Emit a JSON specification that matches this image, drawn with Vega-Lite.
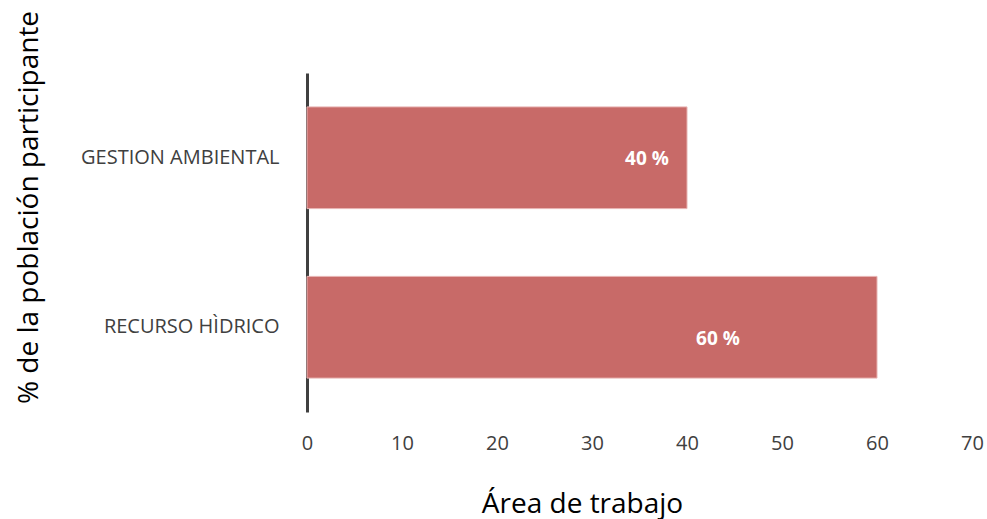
{
  "$schema": "https://vega.github.io/schema/vega-lite/v6.json",
  "width": 665,
  "height": 339,
  "autosize": "none",
  "padding": {"left": 307, "top": 73, "right": 15, "bottom": 107},
  "background": "white",
  "config": {
    "view": {"stroke": null},
    "font": "Open Sans"
  },
  "data": {
    "values": [
      {"area": "GESTION AMBIENTAL", "pct": 40},
      {"area": "RECURSO HÌDRICO", "pct": 60}
    ]
  },
  "transform": [{"calculate": "datum.pct + ' %'", "as": "etiqueta"}],
  "encoding": {
    "y": {
      "field": "area",
      "type": "nominal",
      "sort": null,
      "scale": {"paddingInner": 0.4, "paddingOuter": 0.2},
      "axis": {
        "title": "% de la población participante",
        "titleFont": "Open Sans",
        "titleFontSize": 28,
        "titleFontWeight": "normal",
        "titleColor": "#000000",
        "titleX": -264,
        "titleY": 134,
        "titleAngle": -90,
        "labelFont": "Open Sans",
        "labelFontSize": 20,
        "labelLimit": 300,
        "labelColor": "#404040",
        "labelPadding": 28,
        "ticks": false,
        "domain": true,
        "domainColor": "#404040",
        "domainWidth": 3,
        "grid": false
      }
    },
    "x": {
      "field": "pct",
      "type": "quantitative",
      "scale": {"domain": [0, 70], "nice": false},
      "axis": {
        "title": "Área de trabajo",
        "titleFont": "Open Sans",
        "titleFontSize": 28,
        "titleFontWeight": "normal",
        "titleColor": "#000000",
        "titleX": 275,
        "titleY": 92,
        "titleBaseline": "middle",
        "values": [0, 10, 20, 30, 40, 50, 60, 70],
        "labelFont": "Open Sans",
        "labelFontSize": 20,
        "labelColor": "#404040",
        "labelPadding": 21,
        "labelFlush": false,
        "ticks": false,
        "domain": false,
        "grid": false
      }
    }
  },
  "layer": [
    {
      "mark": {"type": "bar", "color": "#C86A68", "stroke": "#E8B4B3", "strokeWidth": 1}
    },
    {
      "transform": [{"filter": "datum.area === 'GESTION AMBIENTAL'"}],
      "mark": {"type": "text", "color": "white", "fontWeight": "bold", "fontSize": 19, "font": "Open Sans", "align": "center", "baseline": "middle", "dx": -40, "dy": 1},
      "encoding": {"text": {"field": "etiqueta", "type": "nominal"}}
    },
    {
      "transform": [{"filter": "datum.area === 'RECURSO HÌDRICO'"}],
      "mark": {"type": "text", "color": "white", "fontWeight": "bold", "fontSize": 19, "font": "Open Sans", "align": "center", "baseline": "middle", "dx": -159, "dy": 12},
      "encoding": {"text": {"field": "etiqueta", "type": "nominal"}}
    }
  ]
}
